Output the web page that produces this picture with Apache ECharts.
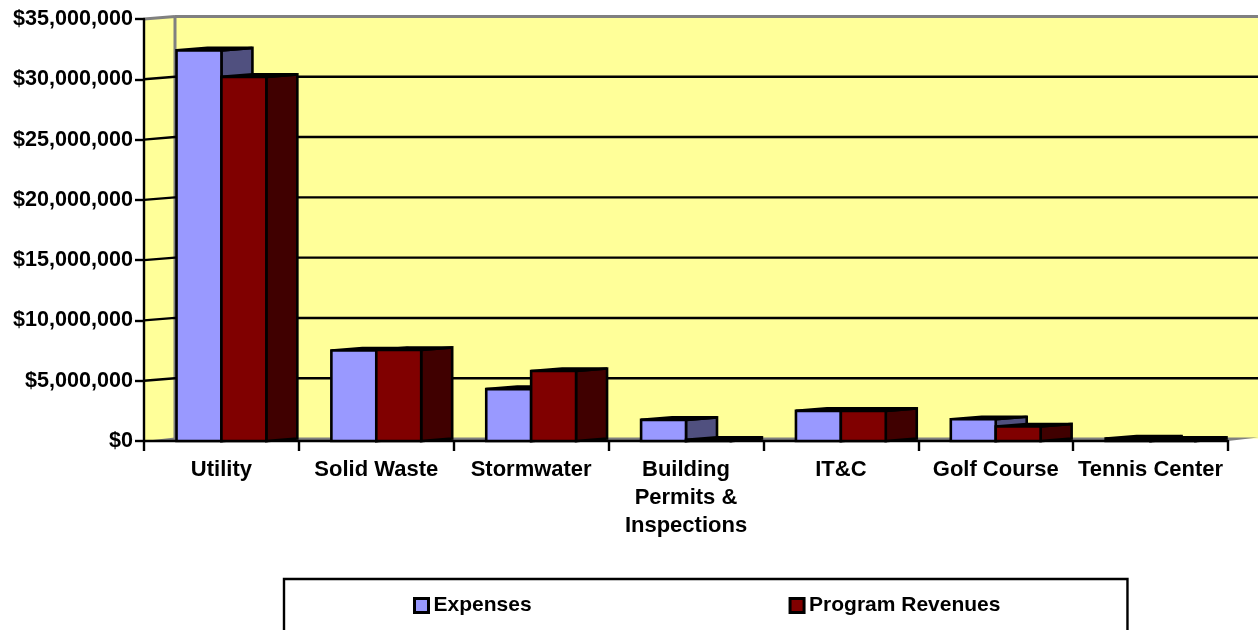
<!DOCTYPE html>
<html>
<head>
<meta charset="utf-8">
<title>Expenses and Program Revenues</title>
<script src="https://cdn.jsdelivr.net/npm/echarts@6/dist/echarts.min.js"></script>
<style>
  html, body { margin: 0; padding: 0; background: #fff; overflow: hidden; }
  #chart { width: 1258px; height: 630px; }
</style>
</head>
<body>
<div id="chart"></div>
<script>
const categories = ['Utility', 'Solid Waste', 'Stormwater', 'Building\nPermits &\nInspections', 'IT&C', 'Golf Course', 'Tennis Center']
const expenses = [32400000, 7500000, 4300000, 1750000, 2500000, 1800000, 200000]
const revenues = [30200000, 7550000, 5800000, 100000, 2500000, 1200000, 100000]
const gridValues = [5000000, 10000000, 15000000, 20000000, 25000000, 30000000]

// fake 3d offset, px
const depthX = 31
const depthY = 2.5
const barShare = 0.29

const font = { fontFamily: '"Liberation Sans", Arial, sans-serif', fontWeight: 'bold', fontSize: 21.6, color: '#000' }

const chart = echarts.init(document.getElementById('chart'), null, { renderer: 'canvas' })

// walls and floor behind the bars
const renderWall = (params, api) => {
    const c = params.coordSys
    const l = c.x, r = c.x + c.width, t = c.y, b = c.y + c.height
    const poly = (points, fill) => ({ type: 'polygon', shape: { points }, style: { fill, stroke: null } })
    const line = (x1, y1, x2, y2) => ({
        type: 'line', shape: { x1, y1, x2, y2 }, style: { stroke: '#808080', lineWidth: 3 }
    })
    return {
        type: 'group',
        children: [
            poly([[l, t], [l + depthX, t - depthY], [l + depthX + c.width, t - depthY], [l + depthX + c.width, b - depthY], [l + depthX, b - depthY], [l, b]], '#ffff99'),
            poly([[l, b], [l + depthX, b - depthY - 1], [r + depthX, b - depthY - 1], [r, b]], '#808080'),
            line(l + depthX, t - depthY, r + depthX, t - depthY),
            line(l + depthX, t - depthY, l + depthX, b - depthY),
            line(l, t, l + depthX, t - depthY)
        ]
    }
}

// one black gridline, bends along side wall and back wall
const renderGridLine = (params, api) => {
    const c = params.coordSys
    const y = api.coord([0, api.value(1)])[1]
    return {
        type: 'polyline',
        shape: { points: [[c.x, y], [c.x + depthX, y - depthY], [c.x + c.width + depthX, y - depthY]] },
        style: { stroke: '#000', lineWidth: 2.4, fill: null }
    }
}

const makeBar = (slot, sideColor) => (params, api) => {
    const base = api.coord([api.value(0), 0])
    const top = api.coord([api.value(0), api.value(1)])
    const w = api.size([1, 0])[0] * barShare
    const x0 = base[0] - w + slot * w
    const x1 = x0 + w
    const edge = { stroke: '#000', lineWidth: 2.6, lineJoin: 'miter' }
    return {
        type: 'group',
        children: [
            { type: 'polygon', shape: { points: [[x1, top[1]], [x1 + depthX, top[1] - depthY], [x1 + depthX, base[1] - depthY], [x1, base[1]]] }, style: { fill: sideColor, ...edge } },
            { type: 'polygon', shape: { points: [[x0, top[1]], [x0 + depthX, top[1] - depthY], [x1 + depthX, top[1] - depthY], [x1, top[1]]] }, style: { fill: sideColor, ...edge } },
            { type: 'rect', shape: { x: x0, y: top[1], width: w, height: base[1] - top[1] }, style: { fill: api.visual('color'), ...edge } }
        ]
    }
}

const option = {
    backgroundColor: '#fff',
    animation: false,
    grid: { left: 144, right: 30, top: 19, bottom: 189, containLabel: false },
    legend: {
        data: ['Expenses', 'Program Revenues'],
        left: 284,
        top: 579,
        padding: [16, 127, 40, 129],
        itemGap: 257,
        itemWidth: 14,
        itemHeight: 14,
        icon: 'rect',
        borderColor: '#000',
        borderWidth: 2.4,
        backgroundColor: '#fff',
        itemStyle: { borderColor: '#000', borderWidth: 3 },
        textStyle: { ...font, fontSize: 21 },
        selectedMode: false
    },
    xAxis: {
        type: 'category',
        data: categories,
        z: 1,
        axisLine: { show: true, lineStyle: { color: '#000', width: 2.4 } },
        axisTick: { show: true, length: 10, lineStyle: { color: '#000', width: 2.4 } },
        axisLabel: { ...font, fontSize: 22, margin: 15, lineHeight: 28, interval: 0 },
        splitLine: { show: false }
    },
    yAxis: {
        type: 'value',
        min: 0,
        max: 35000000,
        interval: 5000000,
        z: 1,
        axisLine: { show: true, lineStyle: { color: '#000', width: 2.4 } },
        axisTick: { show: true, length: 9, lineStyle: { color: '#000', width: 2.4 } },
        axisLabel: { ...font, margin: 11, formatter: v => '$' + v.toLocaleString('en-US') },
        splitLine: { show: false }
    },
    series: [
        { type: 'custom', name: 'wall', z: 0, silent: true, renderItem: renderWall, data: [[0, 0]], encode: { x: 0, y: 1 } },
        { type: 'custom', name: 'gridlines', z: 0, silent: true, renderItem: renderGridLine, data: gridValues.map(v => [0, v]), encode: { x: 0, y: 1 } },
        {
            type: 'custom', name: 'Expenses', z: 2, renderItem: makeBar(0, '#50507f'),
            itemStyle: { color: '#9999ff' },
            data: expenses.map((v, i) => [i, v]), encode: { x: 0, y: 1 }
        },
        {
            type: 'custom', name: 'Program Revenues', z: 3, renderItem: makeBar(1, '#400000'),
            itemStyle: { color: '#800000' },
            data: revenues.map((v, i) => [i, v]), encode: { x: 0, y: 1 }
        }
    ]
}
chart.setOption(option)
</script>
</body>
</html>
